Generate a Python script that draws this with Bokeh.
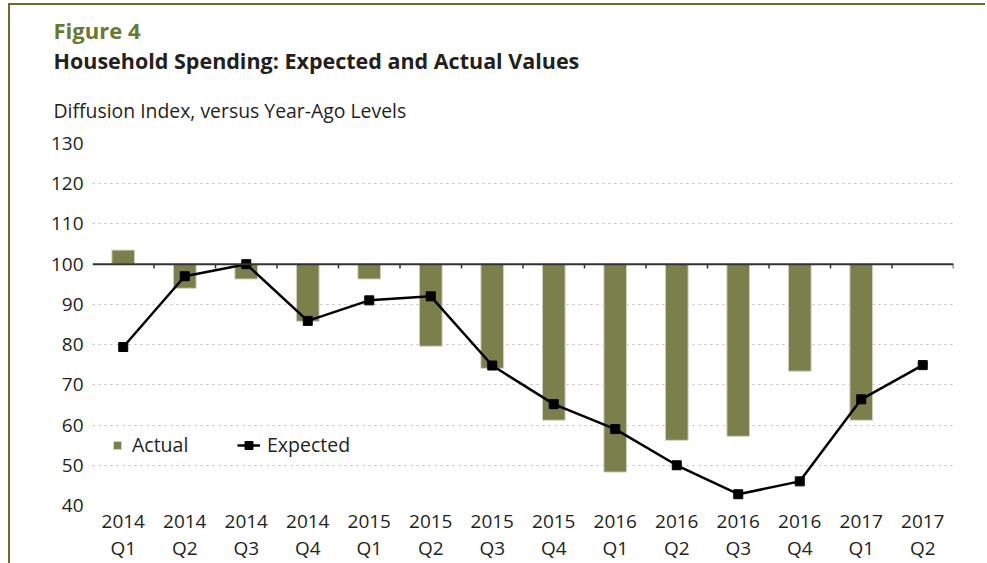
from bokeh.plotting import figure
from bokeh.models import (Range1d, FixedTicker, Title, Legend, LegendItem,
                          ColumnDataSource, Span, LinearAxis)
from bokeh.embed import file_html
from bokeh.resources import INLINE

# ---- data ----
year_labels = ["2014", "2014", "2014", "2014", "2015", "2015", "2015", "2015",
               "2016", "2016", "2016", "2016", "2017", "2017"]
quarter_labels = ["Q1", "Q2", "Q3", "Q4", "Q1", "Q2", "Q3", "Q4",
                  "Q1", "Q2", "Q3", "Q4", "Q1", "Q2"]
actual = [103.5, 94.0, 96.3, 85.8, 96.3, 79.6, 74.1, 61.2,
          48.3, 56.2, 57.2, 73.4, 61.2, None]
expected = [79.4, 97.0, 100.0, 85.9, 91.0, 92.0, 74.8, 65.2,
            59.0, 50.0, 42.8, 46.0, 66.4, 74.9]
y_ticks = [40, 50, 60, 70, 80, 90, 100, 110, 120, 130]
baseline = 100

FONT = "Open Sans"
TXT = "#231f20"
OLIVE = "#7a7f4b"
BORDER = "#66702a"
n = len(year_labels)

W, H = 977, 560
p = figure(width=W, height=H, output_backend="svg", toolbar_location=None,
           x_range=Range1d(-0.5, n - 0.5),
           y_range=Range1d(40, 130),
           min_border_left=82, min_border_right=34,
           min_border_top=138, min_border_bottom=60)
p.styles = {"margin-left": "8px", "margin-top": "3px",
            "border-top": "2px solid " + BORDER, "border-left": "2px solid " + BORDER}
p.outline_line_color = None
p.background_fill_color = "white"
p.border_fill_color = "white"

# titles (stacked above the frame, nearest first)
p.add_layout(Title(text="Diffusion Index, versus Year-Ago Levels", align="left",
                   offset=-39, standoff=39, text_font=FONT, text_font_style="normal",
                   text_font_size="19.4px", text_color=TXT), "above")
p.add_layout(Title(text="Household Spending: Expected and Actual Values", align="left",
                   offset=-39, standoff=2, text_font=FONT, text_font_style="bold",
                   text_font_size="21.5px", text_color=TXT), "above")
p.add_layout(Title(text="Figure 4", align="left",
                   offset=-39, standoff=-4, text_font=FONT, text_font_style="bold",
                   text_font_size="22px", text_color="#687a2f"), "above")

# axes
tick_pos = list(range(n))
p.xaxis.ticker = FixedTicker(ticks=tick_pos)
p.xaxis.major_label_overrides = {i: t for i, t in enumerate(year_labels)}
xax2 = LinearAxis(ticker=FixedTicker(ticks=tick_pos),
                  major_label_overrides={i: t for i, t in enumerate(quarter_labels)})
p.add_layout(xax2, "below")
for ax in (p.xaxis[0], xax2):
    ax.axis_line_color = None
    ax.major_tick_line_color = None
    ax.minor_tick_line_color = None
    ax.major_label_text_font = FONT
    ax.major_label_text_font_size = "19px"
    ax.major_label_text_color = TXT
p.xaxis[0].major_label_standoff = 3
xax2.major_label_standoff = -2

p.yaxis.ticker = FixedTicker(ticks=y_ticks)
p.yaxis.axis_line_color = None
p.yaxis.major_tick_line_color = None
p.yaxis.minor_tick_line_color = None
p.yaxis.major_label_standoff = 3
p.yaxis.major_label_text_font = FONT
p.yaxis.major_label_text_font_size = "19px"
p.yaxis.major_label_text_color = TXT

p.xgrid.grid_line_color = None
p.ygrid.ticker = FixedTicker(ticks=y_ticks)
p.ygrid.grid_line_color = "#bcbcbc"
p.ygrid.grid_line_dash = "2 4"
p.ygrid.grid_line_width = 1

# bars
bx = [i for i, v in enumerate(actual) if v is not None]
bt = [v for v in actual if v is not None]
bar_src = ColumnDataSource(dict(x=bx, top=bt, bottom=[baseline] * len(bx)))
bars = p.vbar(x="x", top="top", bottom="bottom", width=0.37, source=bar_src,
              fill_color=OLIVE, line_color="#d4d6c2", line_width=1)

# the 100 line with ticks between categories
p.add_layout(Span(location=baseline, dimension="width", line_color="#333333", line_width=2))
tx = [i + 0.5 for i in range(n)]
p.segment(x0=tx, x1=tx, y0=[baseline] * n, y1=[baseline - 1.1] * n,
          line_color="#333333", line_width=1.5)

# expected line
ex = list(range(n))
line_r = p.line(ex, expected, line_color="black", line_width=2.5)
sc_r = p.scatter(ex, expected, marker="square", size=9, color="black")

# legends
leg1 = Legend(items=[LegendItem(label="Actual", renderers=[bars])],
              location=(20, 47), padding=0, spacing=0, margin=0,
              glyph_width=10, glyph_height=10, label_standoff=10,
              border_line_alpha=0, background_fill_alpha=0,
              label_text_font=FONT, label_text_font_size="19.5px", label_text_color=TXT)
leg2 = Legend(items=[LegendItem(label="Expected", renderers=[line_r, sc_r])],
              location=(145, 47), padding=0, spacing=0, margin=0,
              glyph_width=23, glyph_height=20, label_standoff=7,
              border_line_alpha=0, background_fill_alpha=0,
              label_text_font=FONT, label_text_font_size="19.5px", label_text_color=TXT)
p.add_layout(leg1)
p.add_layout(leg2)

open("out.html", "w").write(file_html(p, INLINE))
